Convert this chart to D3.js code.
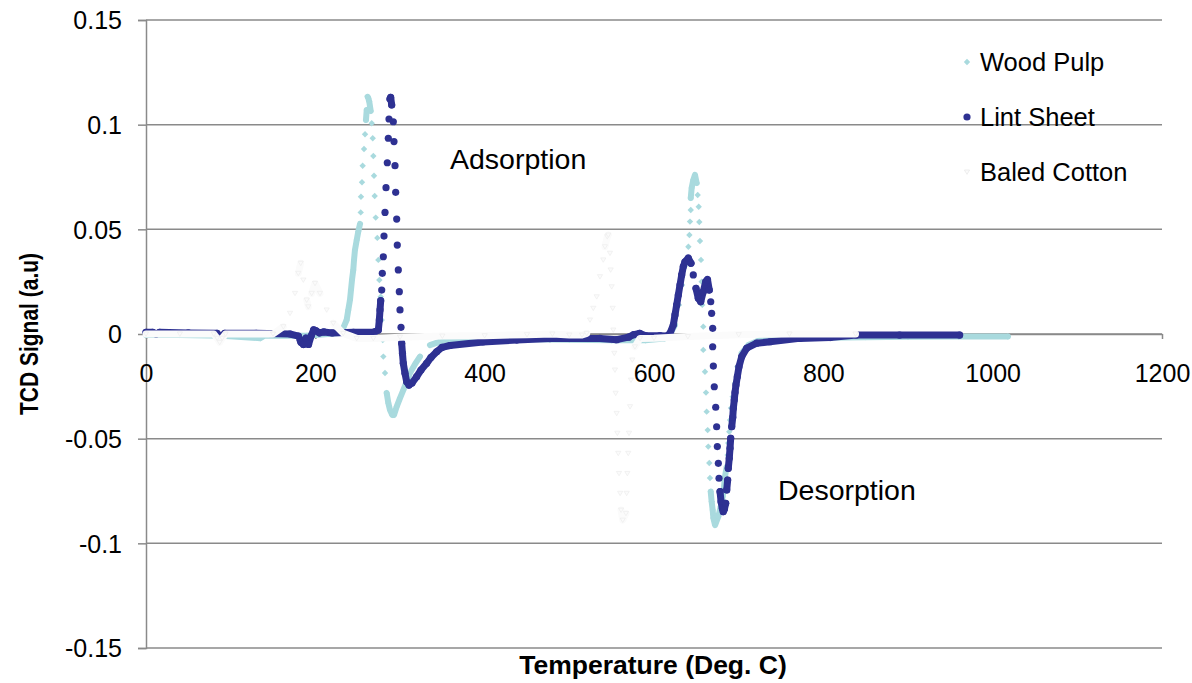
<!DOCTYPE html>
<html>
<head>
<meta charset="utf-8">
<script src="https://cdn.jsdelivr.net/npm/d3@7"></script>
<style>
  body { margin: 0; background: #fff; }
  text { font-family: "Liberation Sans", Arial, sans-serif; fill: #000; }
</style>
</head>
<body>
<div id="chart"></div>
<script>
// axis ticks
const xTicks = [0, 200, 400, 600, 800, 1000, 1200];
const yTicks = [-0.15, -0.1, -0.05, 0, 0.05, 0.1, 0.15];
const yTickLabels = ["-0.15", "-0.1", "-0.05", "0", "0.05", "0.1", "0.15"];
const seriesNames = ["Wood Pulp", "Lint Sheet", "Baled Cotton"];

// [temperature, TCD signal]
const woodPulp = [
  [0, -0.0005], [40, -0.0005], [90, -0.0008], [135, -0.002], [140, -0.0008], [190, -0.0008], [229, 0.0005],
  [233, 0.0029], [237, 0.0067], [238.9, 0.0115], [240.9, 0.0162], [242.1, 0.021], [243.3, 0.0258],
  [244.8, 0.0306], [245.7, 0.0354], [246.8, 0.0401], [248.9, 0.0449], [250.7, 0.0489], [252.8, 0.0526],
  [253.6, 0.0581], [253.9, 0.0656], [255.1, 0.0725], [255.9, 0.0804], [257.5, 0.0884], [258.7, 0.0954],
  [259.8, 0.1022], [260.7, 0.107], [261.8, 0.1133], [262.6, 0.1126], [263.7, 0.111], [265.4, 0.1065],
  [266.6, 0.1007], [267.8, 0.0935], [268.5, 0.085], [269.3, 0.0756], [270.1, 0.0659], [271.3, 0.0556],
  [273.2, 0.0459], [274.4, 0.0354], [275.6, 0.0258], [277.2, 0.0178], [278.4, 0.0067], [279.6, -0.0029],
  [280.3, -0.0108], [282.3, -0.0186], [284.3, -0.0282], [286.2, -0.033], [288.2, -0.0363], [290.9, -0.0387],
  [292.9, -0.0387], [296.1, -0.0347], [300, -0.0306], [303.9, -0.0268], [307.9, -0.0228], [311.8, -0.0186],
  [317.9, -0.0143], [323.6, -0.0108], [335.4, -0.0053], [350.8, -0.0032], [400, -0.0025], [450, -0.0025],
  [500, -0.0028], [550, -0.003], [590, -0.003], [612, -0.0022], [619, 0], [624.8, 0.0043], [629.5, 0.0139],
  [633.1, 0.0234], [636.6, 0.0325], [640.6, 0.0417], [641.8, 0.0473], [642.5, 0.0537], [643.4, 0.0592],
  [643.4, 0.065], [644.5, 0.0698], [646.4, 0.0736], [648.4, 0.076], [650.4, 0.0721], [651.6, 0.0664],
  [652.8, 0.0608], [653.5, 0.0535], [654.3, 0.0444], [655.5, 0.0354], [656.3, 0.025], [657, 0.0139],
  [658.2, 0.0035], [658.2, -0.0076], [660.2, -0.018], [661.4, -0.028], [662.2, -0.0371], [663.4, -0.0459],
  [664.1, -0.0538], [665.3, -0.0616], [666.1, -0.0688], [667, -0.0753], [668.1, -0.0801], [669.3, -0.0841],
  [670.1, -0.0879], [672.1, -0.0913], [675.9, -0.0873], [678.8, -0.0825], [681.1, -0.0777], [682.7, -0.073],
  [683.8, -0.0682], [685.9, -0.0634], [687, -0.0578], [687.7, -0.0521], [688.9, -0.0467], [689.8, -0.0411],
  [690.9, -0.0354], [692.9, -0.03], [695.7, -0.0234], [698.4, -0.0156], [703.6, -0.0091], [711.4, -0.0053],
  [725.2, -0.0029], [744.9, -0.0022], [800, -0.0018], [850, -0.0015], [900, -0.0013], [960, -0.0012],
  [1018, -0.0012]
];

const lintSheet = [
  [0, 0.0008], [8, 0.0008], [12, 0], [16, 0.0008], [50, 0.0005], [84, 0.0003], [87, -0.002], [90, -0.001],
  [93, 0.0003], [130, 0.0003], [170, 0], [180, -0.001], [183, -0.004], [186, -0.005], [189, -0.002],
  [192, -0.005], [195, -0.001], [198, 0.002], [201, 0.0015], [205, 0.0005], [210, 0.001], [220, 0.0005],
  [245, 0.0008], [270, 0.001],
  [274.4, 0.0019], [275.6, 0.0067], [276.4, 0.0115], [277.2, 0.0159], [278.4, 0.021], [279.1, 0.029],
  [280.3, 0.0369], [281.1, 0.0468], [282.3, 0.0581], [283.5, 0.0699], [285, 0.0818], [286.2, 0.0935],
  [287, 0.1027], [288.2, 0.1123], [289, 0.113], [290.2, 0.1094], [292.1, 0.1014], [292.9, 0.0919],
  [294.1, 0.0804], [294.9, 0.0677], [296.1, 0.0549], [296.8, 0.0425], [298, 0.0306], [299.2, 0.0202],
  [300, 0.0115], [301.2, 0.0032], [302, -0.0044], [302.9, -0.0092], [303.9, -0.014], [305.9, -0.0188],
  [307.9, -0.0228], [310.6, -0.0244], [314.2, -0.0234], [319.7, -0.0204], [324.8, -0.0172], [331.5, -0.014],
  [336.6, -0.0112], [343.3, -0.0085], [349.6, -0.0064], [359, -0.0055], [398, -0.0038], [438, -0.0029],
  [477, -0.0022], [536, -0.0021], [556, -0.0027], [570, -0.0015], [576, -0.0003], [583, 0.0003],
  [590, -0.0008], [607, -0.0008], [615, -0.001],
  [618.9, 0.0003], [622.8, 0.0043], [624.8, 0.0091], [626.8, 0.0139], [628.7, 0.0186], [630.7, 0.0234],
  [632.7, 0.0282], [634.6, 0.0322], [636.6, 0.0345], [640.5, 0.0362], [643.7, 0.0338], [646.4, 0.0282],
  [649.6, 0.0218], [652.3, 0.0171], [655.2, 0.0154], [658.2, 0.0202], [661.1, 0.025], [663.2, 0.026],
  [665.3, 0.021], [667, 0.0154], [668.1, 0.0099], [669.3, 0.0027], [669.3, -0.0061], [670.1, -0.0153],
  [671.2, -0.0252], [672.9, -0.035], [674, -0.0443], [674.8, -0.0538], [676, -0.0618], [676.8, -0.0689],
  [678, -0.0753], [679.2, -0.0801], [680.7, -0.0833], [681.8, -0.0849], [683.2, -0.0836], [684.7, -0.0809],
  [685.9, -0.0745], [687, -0.0698], [687.7, -0.0642], [688.9, -0.0594], [689.8, -0.0546], [690.6, -0.0498],
  [691.8, -0.0443], [693, -0.0398], [693.7, -0.0355], [694.8, -0.0315], [695.7, -0.0279], [696.8, -0.0244],
  [698.4, -0.0204], [700.4, -0.0156], [703.6, -0.0108], [709.5, -0.0068], [721.3, -0.0044], [737, -0.0037],
  [772, -0.0021], [808, -0.0017], [839, -0.0005], [890, -0.0005], [961, -0.0005]
];

const baledCotton = [
  [0, 0], [40, 0], [80, 0], [84, -0.002], [87, -0.004], [90, -0.002], [94, 0], [150, 0],
  [162.2, 0.0035], [170.1, 0.0099], [176, 0.0194], [179.9, 0.029], [182.7, 0.0338], [185.8, 0.0258],
  [189.8, 0.0162], [191.7, 0.013], [195.7, 0.0194], [199.6, 0.0242], [205.5, 0.0194], [213.4, 0.0115],
  [221.2, 0.0051], [233, 0.0003], [248.9, -0.0021], [268.5, -0.0021], [300, -0.0015], [350, -0.001],
  [400, -0.0008], [450, -0.0003], [480, 0], [500, -0.0005], [515, -0.0005],
  [520.5, 0.0003], [524.4, 0.0067], [528.3, 0.0123], [532.3, 0.0178], [536.2, 0.0274], [540.1, 0.0354],
  [542.1, 0.0417], [544.8, 0.0465], [546, 0.0473], [548, 0.0386], [548.8, 0.0306], [550, 0.0226],
  [551.2, 0.0123], [551.9, 0.0019], [553.1, -0.0092], [553.9, -0.0172], [554.7, -0.0283], [555.9, -0.0379],
  [556.7, -0.0474], [557.8, -0.057], [558.7, -0.0666], [560, -0.0761], [561.1, -0.0841], [563.1, -0.0889],
  [566.9, -0.0857], [567.7, -0.0761], [568.5, -0.0666], [569.6, -0.057], [570.5, -0.0474], [571.7, -0.0347],
  [572.8, -0.022], [574.4, -0.0124], [577.5, -0.0061], [583.5, -0.0021], [600, -0.002], [640, -0.0012],
  [700, -0.0003], [760, 0], [838, 0]
];

const width = 1192, height = 683;
const svg = d3.select("#chart").append("svg")
  .attr("width", width)
  .attr("height", height);

const x = d3.scaleLinear().domain([0, 1200]).range([146, 1162]);
const y = d3.scaleLinear().domain([-0.15, 0.15]).range([648, 20]);

const gridColor = "#8a8a8a";

// horizontal gridlines
svg.append("g")
  .selectAll("line")
  .data(yTicks)
  .enter()
  .append("line")
  .attr("x1", x(0))
  .attr("x2", x(1200))
  .attr("y1", d => y(d))
  .attr("y2", d => y(d))
  .attr("stroke", gridColor)
  .attr("stroke-width", 1.5);

// y axis
const yAxis = svg.append("g")
  .attr("transform", `translate(${x(0)},0)`)
  .call(d3.axisLeft(y).tickValues(yTicks).tickSize(8).tickFormat((d, i) => yTickLabels[i]));
yAxis.select(".domain").attr("stroke", gridColor).attr("stroke-width", 1.5);
yAxis.selectAll(".tick line").attr("stroke", gridColor).attr("stroke-width", 1.5);
yAxis.selectAll(".tick text")
  .attr("x", -24)
  .attr("dy", "0.35em")
  .style("font-size", "25px");

// x axis sits on y = 0
const xAxis = svg.append("g")
  .attr("transform", `translate(0,${y(0)})`)
  .call(d3.axisBottom(x).tickValues(xTicks).tickSize(5).tickSizeOuter(0).tickFormat(d3.format("d")));
xAxis.select(".domain").attr("stroke", gridColor).attr("stroke-width", 1.5);
xAxis.selectAll(".tick line").attr("stroke", gridColor).attr("stroke-width", 1.5);
xAxis.selectAll(".tick text")
  .attr("y", 39)
  .attr("dy", "0.35em")
  .style("font-size", "25px");

// join neighbours that sit close in y, so dense runs read as a band
function runs(data, gap) {
  const out = [];
  let cur = [data[0]];
  for (let i = 1; i < data.length; i++) {
    if (Math.abs(y(data[i][1]) - y(data[i - 1][1])) < gap) cur.push(data[i]);
    else { out.push(cur); cur = [data[i]]; }
  }
  out.push(cur);
  return out.filter(r => r.length > 1);
}

const line = d3.line().x(d => x(d[0])).y(d => y(d[1]));

function drawSeries(data, opt) {
  const g = svg.append("g");
  g.selectAll("path.band")
    .data(runs(data, 10.5))
    .enter()
    .append("path")
    .attr("class", "band")
    .attr("d", line)
    .attr("fill", "none")
    .attr("stroke", opt.band)
    .attr("stroke-width", opt.bandWidth)
    .attr("stroke-linecap", "round")
    .attr("stroke-linejoin", "round");
  g.selectAll("path.mark")
    .data(data)
    .enter()
    .append("path")
    .attr("class", "mark")
    .attr("d", opt.symbol)
    .attr("transform", d => `translate(${x(d[0])},${y(d[1])})`)
    .attr("fill", opt.fill)
    .attr("stroke", opt.stroke || "none")
    .attr("stroke-width", opt.strokeWidth || 0);
}

const diamond = "M0,-3.2L3.2,0L0,3.2L-3.2,0Z";
const circle = d3.symbol().type(d3.symbolCircle).size(Math.PI * 3.6 * 3.6)();
const triangle = "M-2.6,-2L2.6,-2L0,2.4Z";

const woodColor = "#a9dade";
const lintColor = "#2e3192";
const cottonColor = "#fbfbfb";

drawSeries(woodPulp, { band: woodColor, bandWidth: 6, symbol: diamond, fill: woodColor });
drawSeries(lintSheet, { band: lintColor, bandWidth: 7, symbol: circle, fill: lintColor });
drawSeries(baledCotton, { band: cottonColor, bandWidth: 7, symbol: triangle, fill: cottonColor, stroke: "#ececec", strokeWidth: 0.7 });

// annotations
svg.append("text").attr("x", 450).attr("y", 169).style("font-size", "28.5px").text("Adsorption");
svg.append("text").attr("x", 778).attr("y", 500).style("font-size", "28.5px").text("Desorption");

// legend
const legendY = [62, 117, 172];
const legendSym = [
  { symbol: diamond, fill: woodColor, stroke: "none" },
  { symbol: circle, fill: lintColor, stroke: "none" },
  { symbol: triangle, fill: cottonColor, stroke: "#e6e6e6" }
];
seriesNames.forEach((name, i) => {
  svg.append("path")
    .attr("d", legendSym[i].symbol)
    .attr("transform", `translate(967,${legendY[i]})`)
    .attr("fill", legendSym[i].fill)
    .attr("stroke", legendSym[i].stroke)
    .attr("stroke-width", 0.7);
  svg.append("text")
    .attr("x", 980)
    .attr("y", legendY[i])
    .attr("dy", "0.35em")
    .style("font-size", "25.5px")
    .text(name);
});

// axis titles
svg.append("text")
  .attr("x", 653)
  .attr("y", 674)
  .attr("text-anchor", "middle")
  .style("font-size", "26.5px")
  .style("font-weight", "bold")
  .text("Temperature (Deg. C)");

svg.append("text")
  .attr("transform", "translate(38,334) scale(1.2,1) rotate(-90)")
  .attr("text-anchor", "middle")
  .style("font-size", "21px")
  .style("font-weight", "bold")
  .text("TCD Signal (a.u)");
</script>
</body>
</html>
